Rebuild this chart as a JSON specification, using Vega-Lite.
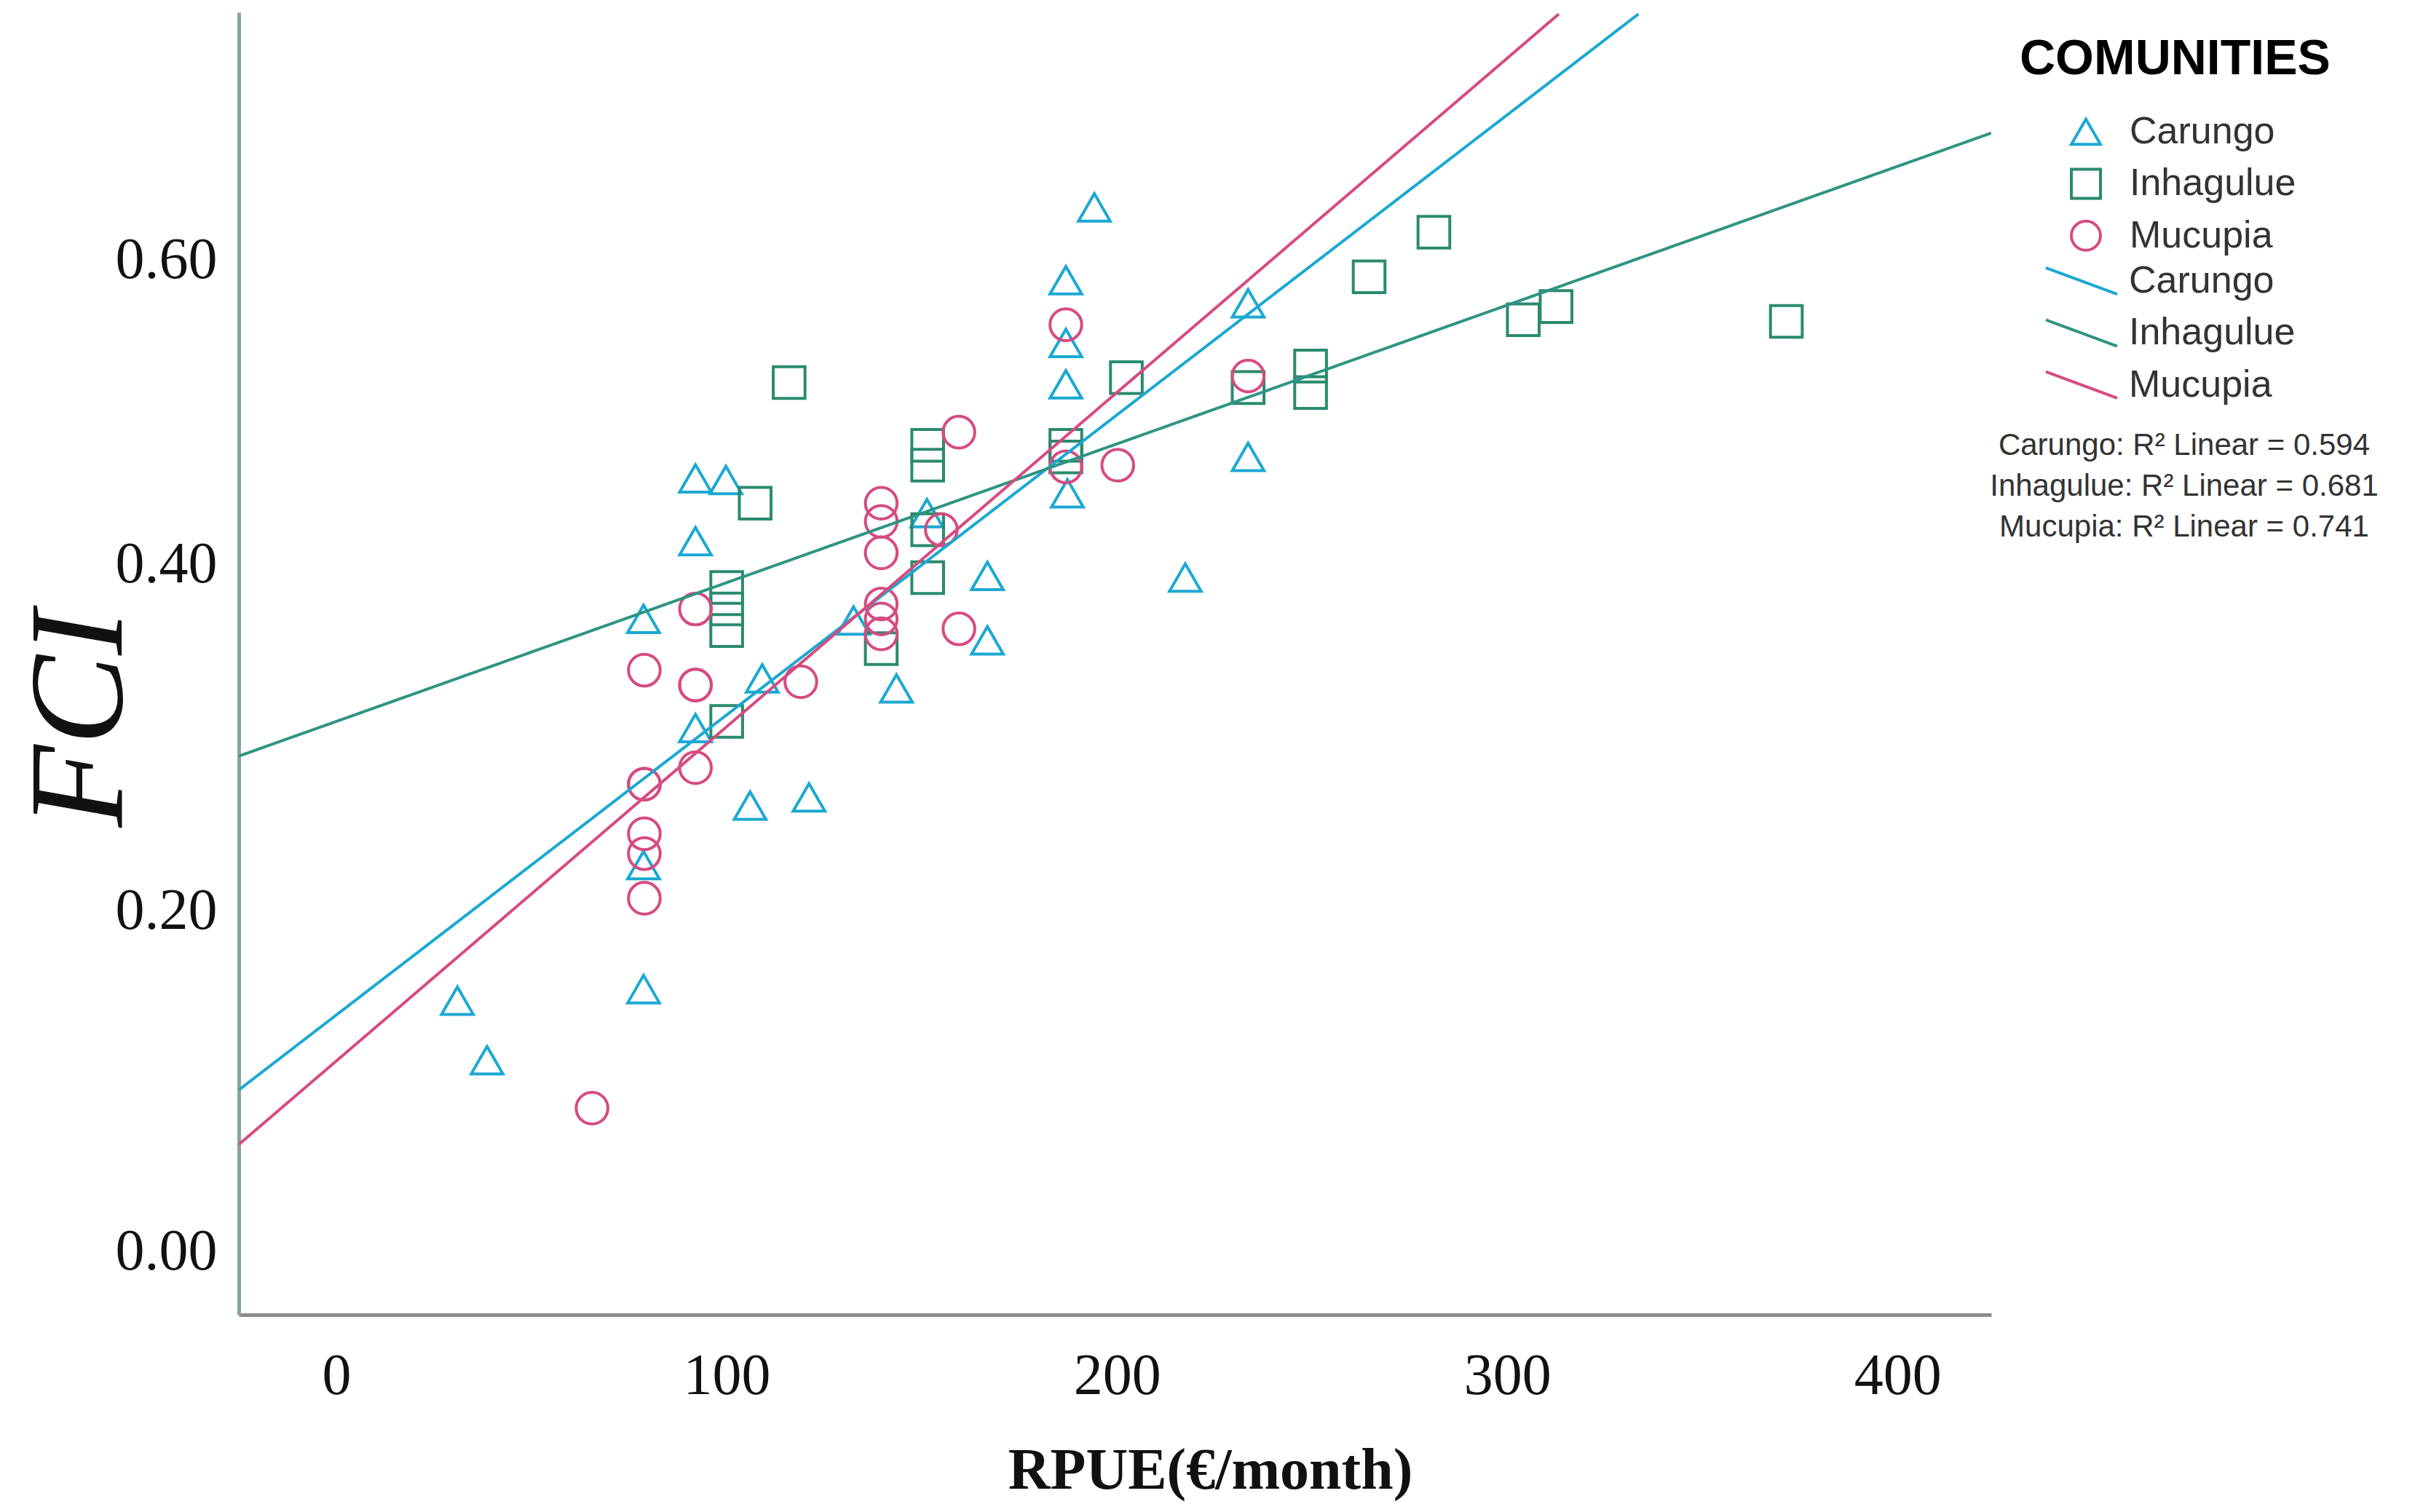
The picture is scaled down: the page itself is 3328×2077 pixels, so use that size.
{
  "$schema": "https://vega.github.io/schema/vega-lite/v6.json",
  "width": 2407,
  "height": 1789,
  "autosize": {"type": "none"},
  "padding": {"left": 328, "top": 17, "right": 593, "bottom": 271},
  "background": "white",
  "config": {"view": {"stroke": null}, "legend": {"labelLimit": 2000, "titleLimit": 2000}},
  "datasets": {
    "points": [
      {"community": "Carungo", "rpue": 31.0, "fci": 0.152},
      {"community": "Carungo", "rpue": 38.6, "fci": 0.116},
      {"community": "Carungo", "rpue": 78.7, "fci": 0.383},
      {"community": "Carungo", "rpue": 78.7, "fci": 0.234},
      {"community": "Carungo", "rpue": 78.7, "fci": 0.159},
      {"community": "Carungo", "rpue": 92.0, "fci": 0.468},
      {"community": "Carungo", "rpue": 92.0, "fci": 0.430},
      {"community": "Carungo", "rpue": 92.0, "fci": 0.317},
      {"community": "Carungo", "rpue": 99.8, "fci": 0.467},
      {"community": "Carungo", "rpue": 106.0, "fci": 0.270},
      {"community": "Carungo", "rpue": 109.1, "fci": 0.347},
      {"community": "Carungo", "rpue": 121.1, "fci": 0.275},
      {"community": "Carungo", "rpue": 132.5, "fci": 0.382},
      {"community": "Carungo", "rpue": 143.5, "fci": 0.341},
      {"community": "Carungo", "rpue": 151.3, "fci": 0.447},
      {"community": "Carungo", "rpue": 166.8, "fci": 0.409},
      {"community": "Carungo", "rpue": 166.8, "fci": 0.370},
      {"community": "Carungo", "rpue": 186.9, "fci": 0.588},
      {"community": "Carungo", "rpue": 186.9, "fci": 0.550},
      {"community": "Carungo", "rpue": 186.9, "fci": 0.525},
      {"community": "Carungo", "rpue": 187.3, "fci": 0.459},
      {"community": "Carungo", "rpue": 194.2, "fci": 0.632},
      {"community": "Carungo", "rpue": 217.5, "fci": 0.408},
      {"community": "Carungo", "rpue": 233.6, "fci": 0.574},
      {"community": "Carungo", "rpue": 233.6, "fci": 0.481},
      {"community": "Inhagulue", "rpue": 100.0, "fci": 0.402},
      {"community": "Inhagulue", "rpue": 100.0, "fci": 0.389},
      {"community": "Inhagulue", "rpue": 100.0, "fci": 0.376},
      {"community": "Inhagulue", "rpue": 100.0, "fci": 0.321},
      {"community": "Inhagulue", "rpue": 107.3, "fci": 0.453},
      {"community": "Inhagulue", "rpue": 116.0, "fci": 0.526},
      {"community": "Inhagulue", "rpue": 139.6, "fci": 0.365},
      {"community": "Inhagulue", "rpue": 151.5, "fci": 0.488},
      {"community": "Inhagulue", "rpue": 151.5, "fci": 0.476},
      {"community": "Inhagulue", "rpue": 151.5, "fci": 0.437},
      {"community": "Inhagulue", "rpue": 151.5, "fci": 0.408},
      {"community": "Inhagulue", "rpue": 186.9, "fci": 0.488},
      {"community": "Inhagulue", "rpue": 186.9, "fci": 0.481},
      {"community": "Inhagulue", "rpue": 202.4, "fci": 0.529},
      {"community": "Inhagulue", "rpue": 233.6, "fci": 0.523},
      {"community": "Inhagulue", "rpue": 249.6, "fci": 0.536},
      {"community": "Inhagulue", "rpue": 249.6, "fci": 0.520},
      {"community": "Inhagulue", "rpue": 264.6, "fci": 0.590},
      {"community": "Inhagulue", "rpue": 281.2, "fci": 0.617},
      {"community": "Inhagulue", "rpue": 304.1, "fci": 0.564},
      {"community": "Inhagulue", "rpue": 312.5, "fci": 0.572},
      {"community": "Inhagulue", "rpue": 371.5, "fci": 0.563},
      {"community": "Mucupia", "rpue": 65.5, "fci": 0.087},
      {"community": "Mucupia", "rpue": 78.9, "fci": 0.352},
      {"community": "Mucupia", "rpue": 78.9, "fci": 0.283},
      {"community": "Mucupia", "rpue": 78.9, "fci": 0.283},
      {"community": "Mucupia", "rpue": 78.9, "fci": 0.253},
      {"community": "Mucupia", "rpue": 78.9, "fci": 0.241},
      {"community": "Mucupia", "rpue": 78.9, "fci": 0.214},
      {"community": "Mucupia", "rpue": 92.0, "fci": 0.389},
      {"community": "Mucupia", "rpue": 92.0, "fci": 0.343},
      {"community": "Mucupia", "rpue": 92.0, "fci": 0.343},
      {"community": "Mucupia", "rpue": 92.0, "fci": 0.293},
      {"community": "Mucupia", "rpue": 119.0, "fci": 0.345},
      {"community": "Mucupia", "rpue": 139.6, "fci": 0.453},
      {"community": "Mucupia", "rpue": 139.6, "fci": 0.442},
      {"community": "Mucupia", "rpue": 139.6, "fci": 0.423},
      {"community": "Mucupia", "rpue": 139.6, "fci": 0.392},
      {"community": "Mucupia", "rpue": 139.6, "fci": 0.383},
      {"community": "Mucupia", "rpue": 139.6, "fci": 0.374},
      {"community": "Mucupia", "rpue": 155.0, "fci": 0.437},
      {"community": "Mucupia", "rpue": 159.5, "fci": 0.496},
      {"community": "Mucupia", "rpue": 159.5, "fci": 0.377},
      {"community": "Mucupia", "rpue": 186.9, "fci": 0.561},
      {"community": "Mucupia", "rpue": 186.9, "fci": 0.475},
      {"community": "Mucupia", "rpue": 200.2, "fci": 0.476},
      {"community": "Mucupia", "rpue": 233.6, "fci": 0.530}
    ],
    "fits": [
      {"fit": "Carungo", "r2": "Carungo: R² Linear = 0.594", "rpue": -25, "fci": 0.098},
      {"fit": "Carungo", "r2": "Carungo: R² Linear = 0.594", "rpue": 333.6, "fci": 0.749},
      {"fit": "Inhagulue", "r2": "Inhagulue: R² Linear = 0.681", "rpue": -25, "fci": 0.300},
      {"fit": "Inhagulue", "r2": "Inhagulue: R² Linear = 0.681", "rpue": 424, "fci": 0.677},
      {"fit": "Mucupia", "r2": "Mucupia: R² Linear = 0.741", "rpue": -25, "fci": 0.065},
      {"fit": "Mucupia", "r2": "Mucupia: R² Linear = 0.741", "rpue": 313.2, "fci": 0.749}
    ]
  },
  "layer": [
    {
      "data": {"name": "points"},
      "mark": {"type": "point", "filled": false, "strokeWidth": 4, "size": 1900, "opacity": 1},
      "encoding": {
        "x": {
          "field": "rpue", "type": "quantitative",
          "scale": {"domain": [-25, 424], "nice": false, "zero": false},
          "axis": {
            "title": "RPUE(€/month)", "values": [0, 100, 200, 300, 400], "grid": false, "ticks": false,
            "domainColor": "#8c8c8c", "domainWidth": 5,
            "labelFont": "Liberation Serif", "labelFontSize": 80, "labelColor": "#111", "labelPadding": 45,
            "labelFlush": false, "labelOverlap": false,
            "titleFont": "Liberation Serif", "titleFontSize": 80, "titleFontWeight": "bold", "titleColor": "#111",
            "titleX": 1334, "titleY": 238, "titleBaseline": "alphabetic", "titleAlign": "center"
          }
        },
        "y": {
          "field": "fci", "type": "quantitative",
          "scale": {"domain": [-0.038, 0.75], "nice": false, "zero": false},
          "axis": {
            "title": "FCI", "values": [0, 0.2, 0.4, 0.6], "format": ".2f", "grid": false, "ticks": false,
            "domainColor": "#87a596", "domainWidth": 5,
            "labelFont": "Liberation Serif", "labelFontSize": 80, "labelColor": "#111", "labelPadding": 30,
            "labelOffset": {"condition": [{"test": "abs(datum.value - 0.4) < 0.001", "value": -36}, {"test": "abs(datum.value - 0.2) < 0.001", "value": -14}], "value": 0},
            "labelFlush": false, "labelOverlap": false,
            "titleFont": "Liberation Serif", "titleFontSize": 185, "titleFontStyle": "italic", "titleFontWeight": "normal",
            "titleColor": "#111", "titleAngle": 270, "titleX": -162, "titleY": 970,
            "titleBaseline": "alphabetic", "titleAlign": "center"
          }
        },
        "color": {
          "field": "community", "type": "nominal",
          "scale": {"domain": ["Carungo", "Inhagulue", "Mucupia"], "range": ["#1BA8D2", "#2A8A6E", "#D64B80"]},
          "legend": {
            "orient": "none", "legendX": 2446, "legendY": 31, "padding": 0,
            "title": "COMUNITIES", "titleFont": "Liberation Sans", "titleFontSize": 68, "titleFontWeight": "bold",
            "titleColor": "#000", "titlePadding": 40,
            "labelFont": "Liberation Sans", "labelFontSize": 52, "labelColor": "#333",
            "symbolSize": 1600, "symbolStrokeWidth": 4, "symbolOffset": 65, "labelOffset": 34,
            "clipHeight": 50, "rowPadding": 19.4
          }
        },
        "shape": {
          "field": "community", "type": "nominal",
          "scale": {"domain": ["Carungo", "Inhagulue", "Mucupia"], "range": ["triangle-up", "square", "circle"]},
          "legend": {
            "orient": "none", "legendX": 2446, "legendY": 31, "padding": 0,
            "title": "COMUNITIES", "titleFont": "Liberation Sans", "titleFontSize": 68, "titleFontWeight": "bold",
            "titleColor": "#000", "titlePadding": 40,
            "labelFont": "Liberation Sans", "labelFontSize": 52, "labelColor": "#333",
            "symbolSize": 1600, "symbolStrokeWidth": 4, "symbolOffset": 65, "labelOffset": 34,
            "clipHeight": 50, "rowPadding": 19.4
          }
        }
      }
    },
    {
      "data": {"name": "fits"},
      "mark": {"type": "line", "strokeWidth": 4, "clip": true},
      "encoding": {
        "x": {"field": "rpue", "type": "quantitative", "title": "RPUE(€/month)"},
        "y": {"field": "fci", "type": "quantitative", "title": "FCI"},
        "color": {
          "field": "fit", "type": "nominal",
          "scale": {"domain": ["Carungo", "Inhagulue", "Mucupia"], "range": ["#1BA8D2", "#2E9483", "#D64B80"]},
          "legend": {
            "orient": "none", "legendX": 2480, "legendY": 344, "padding": 0, "title": null,
            "labelFont": "Liberation Sans", "labelFontSize": 52, "labelColor": "#333",
            "symbolType": "M-1,-0.37L1,0.37", "symbolSize": 9604, "symbolStrokeWidth": 4,
            "symbolOffset": 0, "labelOffset": 14, "clipHeight": 50, "rowPadding": 19.4
          }
        },
        "strokeDash": {
          "field": "r2", "type": "nominal",
          "scale": {"range": [[1, 0], [1, 0], [1, 0]]},
          "legend": {
            "orient": "none", "legendX": 2630, "legendY": 575, "padding": 0, "title": null,
            "labelFont": "Liberation Sans", "labelFontSize": 42, "labelColor": "#333", "labelAlign": "center",
            "symbolSize": 0, "symbolStrokeWidth": 0, "symbolOpacity": 0,
            "symbolOffset": 0, "labelOffset": 0, "clipHeight": 40, "rowPadding": 14
          }
        }
      }
    }
  ],
  "resolve": {
    "scale": {"color": "independent", "shape": "independent", "strokeDash": "independent"},
    "legend": {"color": "independent", "shape": "independent", "strokeDash": "independent"}
  }
}
